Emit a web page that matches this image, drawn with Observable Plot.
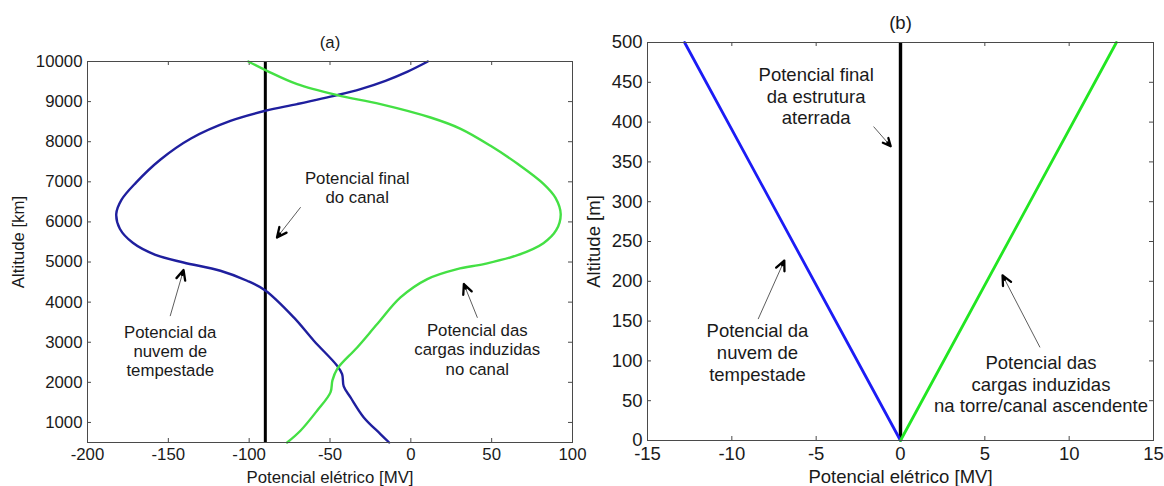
<!DOCTYPE html>
<html><head><meta charset="utf-8">
<script src="https://cdn.jsdelivr.net/npm/d3@7"></script>
<script src="https://cdn.jsdelivr.net/npm/@observablehq/plot@0.6"></script>
<style>
body{margin:0;background:#fff;width:1164px;height:486px;overflow:hidden;position:relative;font-family:"Liberation Sans",Arial,sans-serif;}
#a{position:absolute;left:0;top:0;}
#b{position:absolute;left:580px;top:0;}
</style></head><body><div id="a"></div><div id="b"></div>
<script>
// ---------- Panel (a) data ----------
const xTicksA = [-200, -150, -100, -50, 0, 50, 100];
const yTicksA = [1000, 2000, 3000, 4000, 5000, 6000, 7000, 8000, 9000, 10000];
const cloudA = [[10.5,10000],[-2,9748],[-15.7,9519],[-31.1,9312],[-45.5,9162],[-70.3,8938],[-90,8771],[-111.6,8518],[-136,8080],[-155,7550],[-170,6980],[-179,6550],[-182.2,6200],[-180,5830],[-172,5480],[-158,5180],[-140.6,4989],[-117.8,4782],[-101.3,4533],[-90,4290],[-72.4,3618],[-60,3037],[-45.6,2414],[-42.5,2207],[-41.5,1900],[-37.3,1624],[-29.1,1125],[-18.8,711],[-13.4,500]];
const inducedA = [[-100.5,10000],[-89,9768],[-70.3,9436],[-45.5,9162],[-18.8,8938],[12.2,8604],[30.8,8322],[49.3,7898],[66,7450],[82.2,6944],[89.5,6600],[92.7,6195],[90,5800],[82,5470],[66,5170],[45.2,4949],[28.7,4824],[10.2,4575],[-6.4,4117],[-20.8,3453],[-33.2,2870],[-45.6,2332],[-48.5,2050],[-49.7,1750],[-58,1292],[-68.3,793],[-76.5,500]];
const finalA = [[-90,500],[-90,10000]];
const notesA = [
  {text:"Potencial final\ndo canal", x:-33.2, y:6868},
  {text:"Potencial da\nnuvem de\ntempestade", x:-148.8, y:2788},
  {text:"Potencial das\ncargas induzidas\nno canal", x:41.1, y:2830}
];
const arrowsA = [
  {x1:-68.3,y1:6360,x2:-82.8,y2:5612},
  {x1:-148.8,y1:3661,x2:-140.6,y2:4800},
  {x1:41.1,y1:3619,x2:32.8,y2:4451}
];

// ---------- Panel (b) data ----------
const xTicksB = [-15, -10, -5, 0, 5, 10, 15];
const yTicksB = [0, 50, 100, 150, 200, 250, 300, 350, 400, 450, 500];
const cloudB = [[0,0],[-12.8,500]];
const inducedB = [[0,0],[12.8,500]];
const finalB = [[0,0],[0,500]];
const notesB = [
  {text:"Potencial final\nda estrutura\naterrada", x:-5.0, y:432.9},
  {text:"Potencial da\nnuvem de\ntempestade", x:-8.48, y:111},
  {text:"Potencial das\ncargas induzidas\nna torre/canal ascendente", x:8.33, y:71.3}
];
const arrowsB = [
  {x1:-1.58,y1:394,x2:-0.58,y2:369.7},
  {x1:-8.43,y1:153,x2:-6.89,y2:226},
  {x1:8.26,y1:117.4,x2:6.05,y2:207.5}
];

const FONT = "'Liberation Sans', Arial, sans-serif";
const FRAME = "#4a4a4a";

function arrowMarks(arrows, sx, sy) {
  return arrows.flatMap(a => {
    const L = Math.hypot(sx(a.x2) - sx(a.x1), sy(a.y2) - sy(a.y1));
    return [
      Plot.arrow([a], {x1:"x1", y1:"y1", x2:"x2", y2:"y2", stroke:"#333", strokeWidth:0.8, headLength:0}),
      Plot.arrow([a], {x1:"x1", y1:"y1", x2:"x2", y2:"y2", stroke:"#000", strokeWidth:2.3, headLength:7, headAngle:50, insetStart: Math.max(0, L - 5)})
    ];
  });
}

function panel(cfg) {
  const {width, height, ml, mr, mt, mb, xDomain, yDomain, xTicks, yTicks, fontSize,
         cloud, induced, final, cloudColor, inducedColor, lineW, finalW, notes, arrows,
         title, xLabel, yLabel, titleDy, xLabelDy, yLabelDx, yLabelDy, lineHeight} = cfg;
  const sx = d3.scaleLinear(xDomain, [ml, width - mr]);
  const sy = d3.scaleLinear(yDomain, [height - mb, mt]);
  const iw = width - ml - mr, ih = height - mt - mb;
  const center = {textAnchor: "middle", lineAnchor: "middle", fontSize, fill: "#1a1a1a"};
  return Plot.plot({
    width, height, marginLeft: ml, marginRight: mr, marginTop: mt, marginBottom: mb,
    x: {domain: xDomain}, y: {domain: yDomain},
    style: {fontFamily: FONT, fontSize: fontSize + "px", color: "#1a1a1a", background: "transparent", overflow: "visible"},
    marks: [
      Plot.ruleX(xTicks, {x: d => d, insetTop: ih - 4, stroke: FRAME}),
      Plot.ruleX(xTicks, {x: d => d, insetBottom: ih - 4, stroke: FRAME}),
      Plot.ruleY(yTicks, {y: d => d, insetRight: iw - 4, stroke: FRAME}),
      Plot.ruleY(yTicks, {y: d => d, insetLeft: iw - 4, stroke: FRAME}),
      Plot.axisX({ticks: xTicks, tickSize: 0, tickPadding: 6, label: null, tickFormat: d => String(d), fontSize}),
      Plot.axisY({ticks: yTicks, tickSize: 0, tickPadding: 5, label: null, tickFormat: d => String(d), fontSize}),
      Plot.line(final, {x: d => d[0], y: d => d[1], stroke: "#000", strokeWidth: finalW, strokeLinecap: "butt"}),
      Plot.line(cloud, {x: d => d[0], y: d => d[1], stroke: cloudColor, strokeWidth: lineW, curve: "catmull-rom"}),
      Plot.line(induced, {x: d => d[0], y: d => d[1], stroke: inducedColor, strokeWidth: lineW, curve: "catmull-rom"}),
      Plot.frame({stroke: FRAME}),
      ...arrowMarks(arrows, sx, sy),
      Plot.text(notes, {x: "x", y: "y", text: "text", lineHeight, ...center}),
      Plot.text([title], {frameAnchor: "top", dy: titleDy, ...center}),
      Plot.text([xLabel], {frameAnchor: "bottom", dy: xLabelDy, ...center}),
      Plot.text([yLabel], {frameAnchor: "left", dx: yLabelDx, dy: yLabelDy, rotate: -90, ...center})
    ]
  });
}

document.getElementById("a").append(panel({
  width: 580, height: 486, ml: 87, mr: 8, mt: 61, mb: 44,
  xDomain: [-200, 100], yDomain: [500, 10000], xTicks: xTicksA, yTicks: yTicksA, fontSize: 16.8,
  cloud: cloudA, induced: inducedA, final: finalA, cloudColor: "#1f1f9e", inducedColor: "#44e044",
  lineW: 2.4, finalW: 3, notes: notesA, arrows: arrowsA, lineHeight: 1.15,
  title: "(a)", xLabel: "Potencial elétrico [MV]", yLabel: "Altitude [km]",
  titleDy: -19.3, xLabelDy: 35.3, yLabelDx: -69.3, yLabelDy: -10
}));

document.getElementById("b").append(panel({
  width: 584, height: 486, ml: 67, mr: 11, mt: 42, mb: 46,
  xDomain: [-15, 15], yDomain: [0, 500], xTicks: xTicksB, yTicks: yTicksB, fontSize: 18.5,
  cloud: cloudB, induced: inducedB, final: finalB, cloudColor: "#1c1cf5", inducedColor: "#22e622",
  lineW: 2.8, finalW: 3.4, notes: notesB, arrows: arrowsB, lineHeight: 1.17,
  title: "(b)", xLabel: "Potencial elétrico [MV]", yLabel: "Altitude [m]",
  titleDy: -19.3, xLabelDy: 36.7, yLabelDx: -53, yLabelDy: 0
}));
</script></body></html>
